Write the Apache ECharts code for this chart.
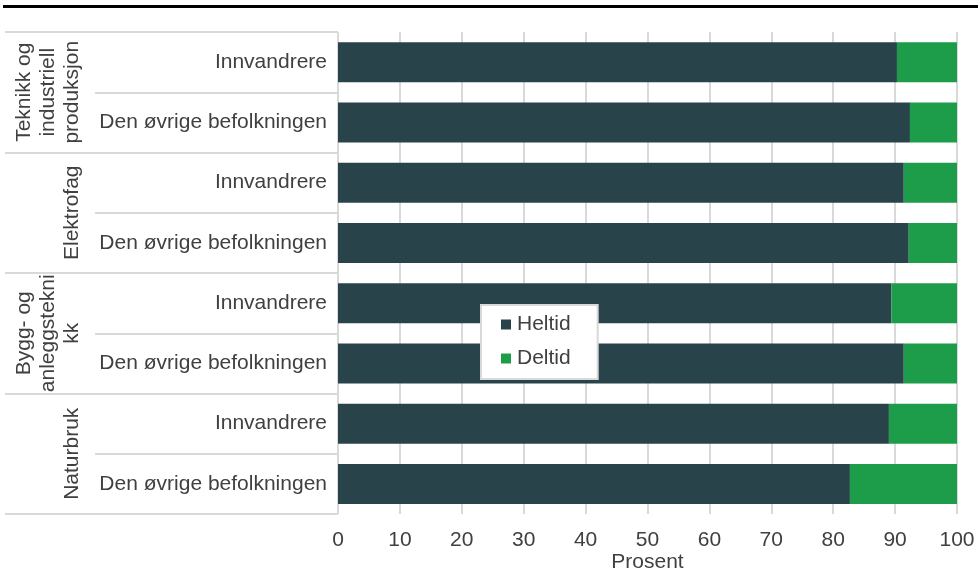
<!DOCTYPE html>
<html>
<head>
<meta charset="utf-8">
<script src="https://cdn.jsdelivr.net/npm/echarts@6/dist/echarts.min.js"></script>
<style>html,body{margin:0;padding:0;background:#fff}#c{width:978px;height:571px}</style>
</head>
<body>
<div id="c"></div>
<script>
const rowLabels = ['Innvandrere','Den øvrige befolkningen','Innvandrere','Den øvrige befolkningen','Innvandrere','Den øvrige befolkningen','Innvandrere','Den øvrige befolkningen'];
const groupLabels = ['Teknikk og\nindustriell\nproduksjon','Elektrofag','Bygg- og\nanleggstekni\nkk','Naturbruk'];
const heltid = [90.3, 92.4, 91.4, 92.2, 89.4, 91.4, 89.0, 82.7];
const deltid = [9.7, 7.6, 8.6, 7.8, 10.6, 8.6, 11.0, 17.3];
const xTicks = {min: 0, max: 100, interval: 10};

const FONT = '"Liberation Sans", Arial, sans-serif';
const GRID = '#d9d9d9';
const TXT = '#404040';
const FS = 21;

const chart = echarts.init(document.getElementById('c'), null, {renderer: 'canvas'});
chart.setOption({
  animation: false,
  textStyle: {fontFamily: FONT},
  graphic: [{type: 'rect', shape: {x: 3, y: 5, width: 975, height: 3}, style: {fill: '#000'}}],
  grid: {left: 338, right: 21, top: 32, bottom: 57, containLabel: false, outerBoundsMode: 'none'},
  legend: {
    orient: 'vertical', left: 481, top: 305,
    data: ['Heltid', 'Deltid'],
    backgroundColor: '#fff', borderColor: GRID, borderWidth: 2,
    padding: [9, 27, 10, 20], itemGap: 13,
    itemWidth: 10, itemHeight: 10, icon: 'rect',
    textStyle: {fontSize: FS, color: TXT, fontFamily: FONT, padding: [0, 0, 0, 1]}
  },
  xAxis: {
    type: 'value', min: xTicks.min, max: xTicks.max, interval: xTicks.interval,
    axisLine: {show: false}, axisTick: {show: false},
    splitLine: {show: true, lineStyle: {color: GRID, width: 2}},
    axisLabel: {fontSize: FS, color: TXT, margin: 16, fontFamily: FONT},
    name: 'Prosent', nameLocation: 'middle', nameGap: 38, nameMoveOverlap: false,
    nameTextStyle: {fontSize: FS, color: TXT, fontFamily: FONT}
  },
  yAxis: [{
    type: 'category', data: rowLabels, inverse: true,
    axisLine: {show: false},
    axisTick: {show: true, length: 243, lineStyle: {color: GRID, width: 2}},
    axisLabel: {interval: 0, margin: 11, fontSize: FS, color: TXT, fontFamily: FONT},
    splitLine: {show: false}
  }, {
    type: 'category', data: groupLabels, inverse: true, position: 'left', offset: 0,
    axisLine: {show: false},
    axisTick: {show: true, length: 333, lineStyle: {color: GRID, width: 2}},
    axisLabel: {interval: 0, rotate: 90, margin: 254, fontSize: FS, lineHeight: 24, color: TXT, fontFamily: FONT},
    splitLine: {show: false}
  }],
  series: [{
    name: 'Heltid', type: 'bar', stack: 'a', yAxisIndex: 0, data: heltid,
    barWidth: 40, itemStyle: {color: '#29434a'}
  }, {
    name: 'Deltid', type: 'bar', stack: 'a', yAxisIndex: 0, data: deltid,
    barWidth: 40, itemStyle: {color: '#1d9c4a'}
  }]
});
</script>
</body>
</html>
